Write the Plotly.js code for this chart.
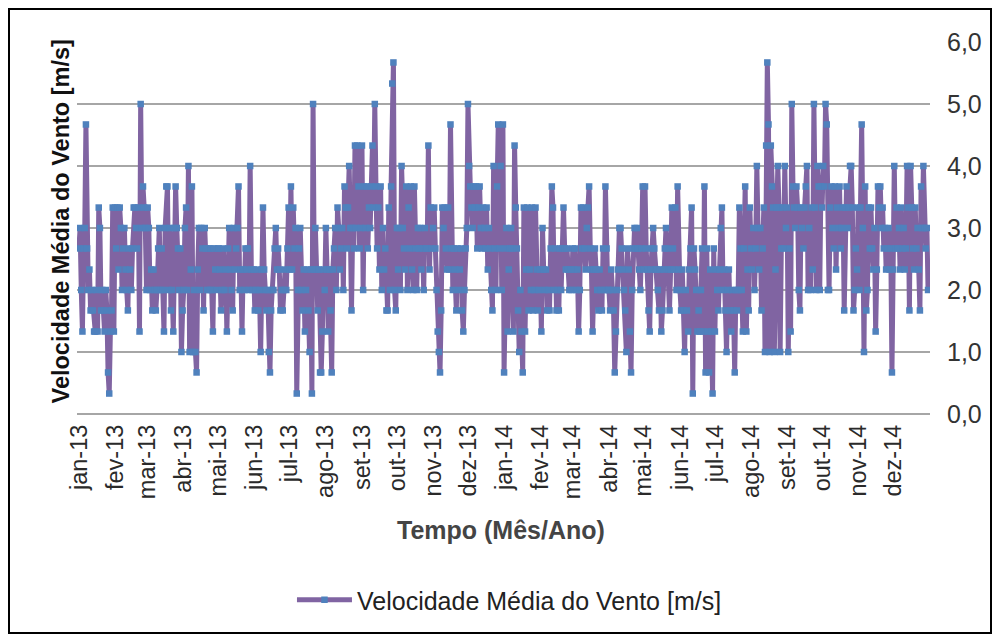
<!DOCTYPE html>
<html>
<head>
<meta charset="utf-8">
<script src="https://cdn.plot.ly/plotly-3.0.1.min.js"></script>
<style>
  html, body { margin: 0; padding: 0; background: #fff; }
  #wrap { position: relative; width: 998px; height: 637px; }
  #chart { width: 998px; height: 637px; }
  #frame { position: absolute; left: 8px; top: 8px; width: 980px; height: 622px; border: 2px solid #000; pointer-events: none; }
</style>
</head>
<body>
<div id="wrap"><div id="chart"></div><div id="frame"></div></div>
<script>
// Daily mean wind speed [m/s], one array per month
const jan13 = [2.67,3,2,1.33,2.67,3,4.67,2.67,2,2.33,1.67,2,1.67,1.33,1.33,2,1.33,3.33,3,1.67,2,1.67,1.33,2,1.67,0.67,0.33,1.33,1.67,3.33,1.33];
const fev13 = [3.33,2.67,3.33,2.33,3.33,3,2,2.67,3,2.33,2,1.67,2.67,2.33,2,2.67,3.33,3.33,3,2.67,3.33,1.33,5,3,3.67,3.33,3,2];
const mar13 = [3.33,3,2,2.33,1.67,2.33,2,1.67,2,2.67,3,2,2.67,2,1.33,3,3.67,3.67,2,3,1.67,2,1.33,3,3.67,3,2.67,2,2.67,1,1.67];
const abr13 = [2,3,3.33,2,4,1,2.33,3.67,1,2,1,0.67,2.33,3,2,3,2.67,1.67,3,2.67,2,2.67,2,2.67,2,1.33,2.67,2.33,2,2.67];
const mai13 = [2.67,2.33,1.67,2,2.67,2,2.33,1.33,2.67,3,2.33,2,1.67,3,2.33,2.67,3,3.67,2,2.33,1.33,2.33,2,2.67,2.33,2.67,2,4,2.33,2,2.33];
const jun13 = [1.67,2,2.33,1.67,2,1,2.33,3.33,2.33,2,1.67,2,1,0.67,1.67,2,2,2.67,3,2.33,2.67,2.33,1.67,2,1.67,2,2.33,2,2.67,3.33];
const jul13 = [2.33,3.67,2.33,3.33,2.67,3,0.33,2,2.67,3,2,1.67,2.33,1.33,2,2.33,1.67,1,2.33,0.33,5,2.33,3,2.33,1.67,2.33,0.67,0.67,1.33,2.33,2];
const ago13 = [3,2.33,1.33,2.33,1.67,0.67,2.33,2.67,3,2,3.33,3,2.33,2.67,3,2,3.67,3.33,2.67,3.33,4,3,1.67,3,2.67,4.33,3,4.33,3.67,2.67,3];
const set13 = [4.33,2,3.67,3,3.67,2.67,3.33,3,3.67,4.33,3.33,5,3.67,2.67,3.33,2.33,3.67,2,3,2.33,2.67,1.67,1.67,3.33,2,3.67,5.33,5.67,2,1.67];
const out13 = [3,2.33,3,2,4,3,2.67,2.33,3.67,2,3.33,2.67,3.67,2.33,2,3.67,2.67,2,3,2.67,3,2.33,2.67,2,3,2.67,2.67,4.33,2.33,3.33,2.67];
const nov13 = [3,3.33,2.67,2,1.33,1,0.67,1.67,3.33,3,3.33,2.67,2.33,3.33,2.33,4.67,2.67,2,2.67,2.33,1.67,2.67,2,2.33,2.67,1.67,1.33,2,2.67,3];
const dez13 = [5,4,3.67,3.33,3,3.67,3.33,3.67,2.67,3.33,3.67,3,2.67,3.33,3,2.67,3.33,2.33,3,2.67,2,1.67,4,2.67,2,3.67,4.67,2.67,4,2,4.67];
const jan14 = [0.67,2.67,3,1.33,2.33,2.67,3,2.67,1.33,4.33,3.33,2.67,1.67,1,2,1.33,0.67,3.33,1.33,2.33,3.33,1.67,2.33,2,3.33,1.67,2,3.33,2.33,1.67,2];
const fev14 = [2.33,1.33,3,2.33,2,2.33,1.67,2,1.67,2.67,3.67,3.33,2,2.67,1.67,2,1.67,2.67,2,2.67,3.33,2.67,2.33,2.67,2.33,2,2.33,2];
const mar14 = [2.67,2.33,2.67,2,2.33,1.33,2,3.33,2.67,3.33,2.67,2.33,3,3.33,3.67,2.67,2.33,1.33,2.33,2.67,2.33,2,1.67,2.33,2,1.67,2.67,2,3.67,2.67,2];
const abr14 = [2,1.67,2.33,2,1.67,0.67,1.33,2,2.33,3,3,2.67,2.33,2,1.67,1,2.67,2.33,1.33,0.67,2,2.67,3,2.67,3,2.67,2.33,2,2.67,3.67];
const mai14 = [2.33,3.67,2.67,2.33,1.67,1.33,2.33,2.67,3,2.67,2.33,2.33,2,1.67,2.33,1.33,1.67,2.33,2.67,3,2.67,2.33,1.67,2.33,3.33,2.67,2.33,3.33,2,3.67,2.33];
const jun14 = [2,1.67,2.33,1.67,1,2,1.67,1.33,2.33,2.67,3.33,0.33,2.67,2.33,2,1.33,1.67,1.33,2,2.67,1.33,3.67,0.67,2.67,1.33,0.67,2.33,1.33,0.33,2.67];
const jul14 = [1.33,2.33,2,1.67,2.33,3,3.33,2,2.33,1.67,1,2,2.33,1.67,1.33,2,1.67,0.67,2,1.67,2,3.33,2.67,2,1.33,2.67,3.67,1.33,2.33,1.67,3.33];
const ago14 = [2.67,2.33,3,2,2.67,4,3,2.33,3,1.67,2.67,3.33,1,4.33,5.67,4.67,1,4.33,3.67,3.33,1,2.33,3.33,4,3.33,1,2.67,3.33,2.67,4,3];
const set14 = [3.33,1,2.67,1.33,5,3.67,3.33,3,3.67,3.33,2,1.67,3.33,3,2.67,3.33,3.67,4,2,3,2,3.33,2.33,5,3.33,2,4,3.67,2,3.67];
const out14 = [3.33,4,3.67,5,4.67,2,2,3.33,3.67,3,2.67,3.67,2.33,3.33,3,3.67,2.67,3,3.33,1.67,3.33,3.67,3,3.33,4,4,3.33,1.67,2,2.67,2.33];
const nov14 = [3.33,2,3.33,4.67,3,1,3.67,1.67,2,3.33,2.67,3.33,2.67,2.33,3,1.33,2.33,3.67,3.33,3.67,3,3.33,2.67,3,2.33,2.67,3,2.33,2.67,0.67];
const dez14 = [2.33,4,2.67,3.33,2.67,3,2.33,3.33,2.67,3,2.33,2.67,4,3.33,1.67,4,3.33,2.67,2.33,3.33,2.67,3,2.33,1.67,3.67,3,4,3,2.67,3,2];

const monthLabels = ["jan-13","fev-13","mar-13","abr-13","mai-13","jun-13","jul-13","ago-13","set-13","out-13","nov-13","dez-13",
                     "jan-14","fev-14","mar-14","abr-14","mai-14","jun-14","jul-14","ago-14","set-14","out-14","nov-14","dez-14"];
const monthData = [jan13,fev13,mar13,abr13,mai13,jun13,jul13,ago13,set13,out13,nov13,dez13,
                   jan14,fev14,mar14,abr14,mai14,jun14,jul14,ago14,set14,out14,nov14,dez14];
const seriesName = "Velocidade Média do Vento [m/s]";

const pad = n => (n < 10 ? "0" : "") + n;
const xs = [], ys = [], tickvals = [];
monthData.forEach((arr, m) => {
  const year = 2013 + Math.floor(m / 12);
  const mon = (m % 12) + 1;
  tickvals.push(year + "-" + pad(mon) + "-01");
  arr.forEach((v, i) => {
    xs.push(year + "-" + pad(mon) + "-" + pad(i + 1));
    ys.push(v);
  });
});

const trace = {
  type: "scatter",
  mode: "lines+markers",
  x: xs,
  y: ys,
  name: seriesName,
  line: { color: "#8064A2", width: 5 },
  marker: { symbol: "square", size: 6.5, color: "#4F81BD" }
};

const layout = {
  width: 998,
  height: 637,
  margin: { l: 77, r: 68, t: 42, b: 223 },
  paper_bgcolor: "#ffffff",
  plot_bgcolor: "#ffffff",
  separators: ",.",
  font: { family: "Liberation Sans, Arial, sans-serif", color: "#333333" },
  showlegend: true,
  legend: {
    orientation: "h",
    x: 0.507, xanchor: "center",
    y: -0.5, yanchor: "middle",
    font: { size: 25, color: "#222222" },
    itemwidth: 55
  },
  xaxis: {
    type: "date",
    range: ["2012-12-30 08:00", "2015-01-01 16:00"],
    tickmode: "array",
    tickvals: tickvals,
    ticktext: monthLabels,
    tickangle: -90,
    tickfont: { size: 23.5, color: "#2a2a2a" },
    ticklabelstandoff: 5,
    showgrid: false,
    zeroline: false,
    showline: false,
    ticks: "",
    fixedrange: true
  },
  yaxis: {
    side: "right",
    range: [0, 6],
    dtick: 1,
    tick0: 0,
    tickformat: ".1f",
    tickfont: { size: 25, color: "#333333" },
    gridcolor: "#a6a6a6",
    gridwidth: 1.5,
    zeroline: true,
    zerolinecolor: "#a6a6a6",
    zerolinewidth: 1.5,
    showline: false,
    ticks: "",
    ticklabelstandoff: 16,
    fixedrange: true
  },
  annotations: [
    {
      text: "<b>Velocidade Média do Vento [m/s]</b>",
      xref: "paper", yref: "paper",
      x: -0.019, y: 0.517,
      xanchor: "center", yanchor: "middle",
      textangle: -90,
      showarrow: false,
      font: { size: 23.5, color: "#111111" }
    },
    {
      text: "<b>Tempo (Mês/Ano)</b>",
      xref: "paper", yref: "paper",
      x: 0.497, y: -0.312,
      xanchor: "center", yanchor: "middle",
      showarrow: false,
      font: { size: 25, color: "#444444" }
    }
  ]
};

Plotly.newPlot("chart", [trace], layout, { displayModeBar: false, staticPlot: true });
</script>
</body>
</html>
